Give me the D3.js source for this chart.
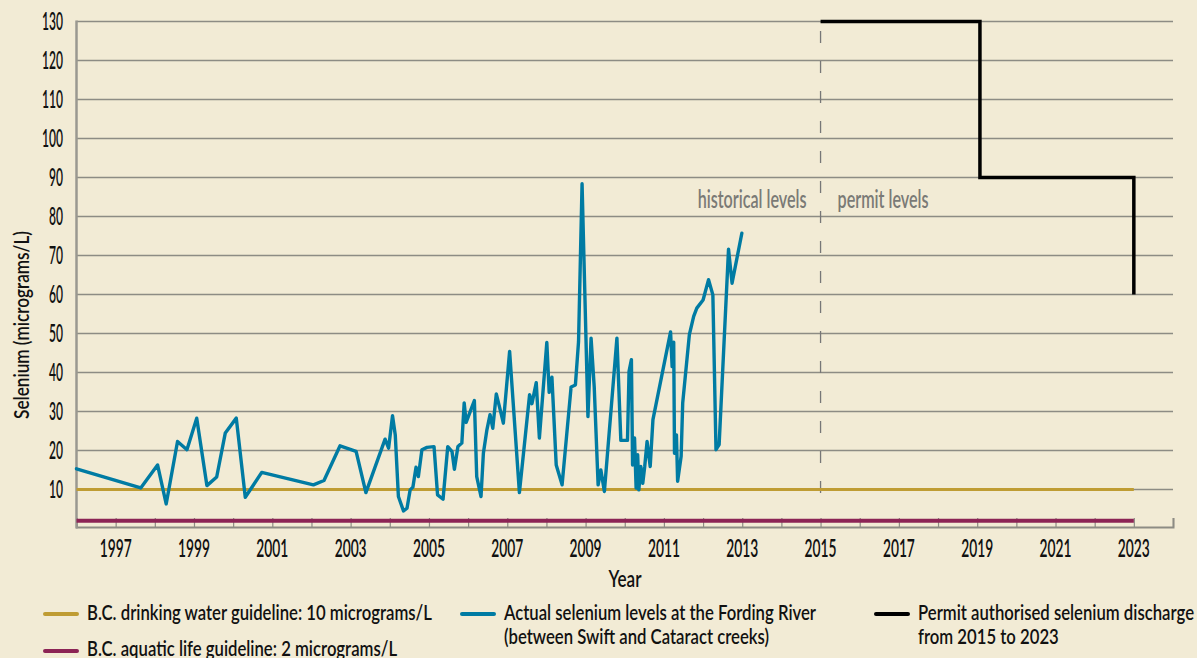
<!DOCTYPE html>
<html>
<head>
<meta charset="utf-8">
<script src="https://cdn.jsdelivr.net/npm/d3@7"></script>
<style>
  html, body { margin: 0; padding: 0; background: #f2ebd5; }
  svg { display: block; }
  text { font-family: Lato, "DejaVu Sans", sans-serif; font-weight: 600; fill: #111; }
</style>
</head>
<body>
<svg id="chart" width="1197" height="658"></svg>
<script>
// Selenium sampling dates (decimal years) at the Fording River
const sampleYears = [
  1996.0, 1997.64, 1998.07, 1998.29, 1998.58, 1998.82, 1999.07, 1999.33, 1999.58, 1999.80,
  2000.08, 2000.31, 2000.73, 2002.05, 2002.32, 2002.73, 2003.14, 2003.39, 2003.88, 2003.97,
  2004.07, 2004.14, 2004.22, 2004.35, 2004.44, 2004.52, 2004.59, 2004.67, 2004.73, 2004.82,
  2004.95, 2005.13, 2005.22, 2005.36, 2005.48, 2005.59, 2005.65, 2005.74, 2005.84, 2005.90,
  2005.95, 2006.07, 2006.16, 2006.22, 2006.33, 2006.39, 2006.48, 2006.56, 2006.63, 2006.72,
  2006.82, 2006.90, 2007.06, 2007.31, 2007.57, 2007.63, 2007.74, 2007.82, 2008.01, 2008.07,
  2008.14, 2008.25, 2008.40, 2008.63, 2008.74, 2008.82, 2008.91, 2009.06, 2009.14, 2009.22,
  2009.32, 2009.39, 2009.48, 2009.80, 2009.90, 2010.07, 2010.11, 2010.17, 2010.20, 2010.25,
  2010.29, 2010.33, 2010.36, 2010.41, 2010.46, 2010.51, 2010.57, 2010.65, 2010.72, 2011.17,
  2011.21, 2011.25, 2011.27, 2011.32, 2011.35, 2011.44, 2011.48, 2011.65, 2011.76, 2011.84,
  2012.00, 2012.14, 2012.25, 2012.33, 2012.41, 2012.65, 2012.74, 2012.99
];
// Measured selenium (micrograms/L)
const seleniumLevels = [
  15.3, 10.4, 16.3, 6.3, 22.3, 20.2, 28.3, 11.0, 13.2, 24.5,
  28.3, 8.0, 14.4, 11.2, 12.3, 21.2, 19.8, 9.2, 22.9, 20.6,
  28.9, 24.0, 8.2, 4.5, 5.2, 9.9, 10.6, 15.7, 13.3, 20.2,
  20.8, 21.0, 8.6, 7.5, 21.0, 19.7, 15.2, 21.0, 21.9, 32.2,
  27.2, 30.4, 32.8, 13.3, 8.2, 19.3, 25.3, 29.2, 25.7, 34.5,
  30.4, 27.0, 45.4, 9.2, 34.3, 32.0, 37.4, 23.2, 47.7, 34.9,
  38.8, 16.3, 11.2, 36.3, 36.8, 47.9, 88.4, 28.7, 48.8, 36.4,
  11.2, 15.0, 9.5, 48.8, 22.6, 22.6, 40.3, 43.3, 16.3, 23.2,
  10.4, 18.9, 9.9, 15.9, 11.6, 15.9, 22.3, 15.9, 27.9, 50.4,
  41.5, 47.8, 19.3, 24.0, 12.1, 18.5, 32.2, 49.7, 54.4, 56.5,
  58.6, 63.8, 59.9, 20.2, 21.5, 71.6, 62.9, 75.7
];

// Permit authorised discharge, 2015 to 2023
const permitYears = [2015, 2019.07, 2019.07, 2023, 2023];
const permitLevels = [130, 130, 90, 90, 60];

// Guidelines (micrograms/L) and the span they are drawn over
const drinkingGuideline = 10;
const aquaticGuideline = 2;
const guidelineSpan = [1996, 2023];

// Axis ticks
const yTicks = [10, 20, 30, 40, 50, 60, 70, 80, 90, 100, 110, 120, 130];
const yearTicks = d3.range(1997, 2025);
const yearLabels = d3.range(1997, 2024, 2);
const permitStartYear = 2015;

const legendItems = [
  { label: ["B.C. drinking water guideline: 10 micrograms/L"], color: "#bf9c33" },
  { label: ["B.C. aquatic life guideline: 2 micrograms/L"], color: "#8c2455" },
  { label: ["Actual selenium levels at the Fording River", "(between Swift and Cataract creeks)"], color: "#007ba3" },
  { label: ["Permit authorised selenium discharge", "from 2015 to 2023"], color: "#000000" }
];

const svg = d3.select("#chart");
const x = d3.scaleLinear().domain([1996, 2024]).range([76.5, 1173]);
const y = d3.scaleLinear().domain([0, 130]).range([528.5, 21.5]);

// Width of a string at a given size, used to squeeze labels into a condensed face
function measure(str, size) {
  const t = svg.append("text").attr("font-size", size).text(str);
  const w = t.node().getComputedTextLength();
  t.remove();
  return w;
}
const place = (px, py, k, extra = "") => `translate(${px},${py})${extra} scale(${k},1)`;

const tickSize = 24;
const kY = 21 / measure("130", tickSize);
const kX = 32 / measure("2023", tickSize);

// Horizontal gridlines
svg.append("g")
  .selectAll("line")
  .data(yTicks)
  .join("line")
  .attr("x1", x(1996)).attr("x2", x(2024))
  .attr("y1", d => y(d)).attr("y2", d => y(d))
  .attr("stroke", "#8d8c84").attr("stroke-width", 1.5);

// Y axis labels
svg.append("g")
  .selectAll("text")
  .data(yTicks)
  .join("text")
  .attr("transform", d => place(63, y(d) + 8.5, kY))
  .attr("text-anchor", "end")
  .attr("font-size", tickSize)
  .text(d => d);

// Bottom axis with upward year ticks
const xAxis = d3.axisBottom(x)
  .tickValues(yearTicks)
  .tickSize(-9)
  .tickFormat("");
const gx = svg.append("g").attr("transform", `translate(0,${y(0) - 1.5})`).call(xAxis);
gx.select(".domain").attr("stroke", "#8d8c84").attr("stroke-width", 2);
gx.selectAll(".tick line").attr("stroke", "#8d8c84").attr("stroke-width", 1.2);

svg.append("g")
  .selectAll("text")
  .data(yearLabels)
  .join("text")
  .attr("transform", d => place(x(d), 557, kX))
  .attr("text-anchor", "middle")
  .attr("font-size", tickSize)
  .text(d => d);

// Left axis line
svg.append("line")
  .attr("x1", x(1996)).attr("x2", x(1996))
  .attr("y1", y(130) - 1).attr("y2", y(0))
  .attr("stroke", "#9a9890").attr("stroke-width", 2.5);

// Divider between historical and permit periods
svg.append("line")
  .attr("x1", x(permitStartYear)).attr("x2", x(permitStartYear))
  .attr("y1", 31).attr("y2", 506)
  .attr("stroke", "#777").attr("stroke-width", 1.3)
  .attr("stroke-dasharray", "12,18");

const noteSize = 24;
const kNote = 109 / measure("historical levels", noteSize);
svg.append("text")
  .attr("transform", place(x(permitStartYear) - 14, 208, kNote))
  .attr("text-anchor", "end").attr("font-size", noteSize)
  .style("fill", "#7a7a76")
  .text("historical levels");
svg.append("text")
  .attr("transform", place(x(permitStartYear) + 17, 208, kNote))
  .attr("font-size", noteSize)
  .style("fill", "#7a7a76")
  .text("permit levels");

// Guideline lines
const line = d3.line().x(d => x(d[0])).y(d => y(d[1]));
svg.append("path")
  .attr("d", line(guidelineSpan.map(yr => [yr, aquaticGuideline])))
  .attr("stroke", legendItems[1].color).attr("stroke-width", 4).attr("fill", "none");
svg.append("path")
  .attr("d", line(guidelineSpan.map(yr => [yr, drinkingGuideline])))
  .attr("stroke", legendItems[0].color).attr("stroke-width", 3).attr("fill", "none");

// Measured selenium
svg.append("path")
  .attr("d", line(sampleYears.map((yr, i) => [yr, seleniumLevels[i]])))
  .attr("stroke", legendItems[2].color).attr("stroke-width", 3.4)
  .attr("stroke-linejoin", "round").attr("stroke-linecap", "round")
  .attr("fill", "none");

// Permit levels
svg.append("path")
  .attr("d", line(permitYears.map((yr, i) => [yr, permitLevels[i]])))
  .attr("stroke", "#000").attr("stroke-width", 3.5)
  .attr("fill", "none");

// Axis titles
const titleSize = 23;
svg.append("text")
  .attr("transform", place(625, 587, 33 / measure("Year", titleSize)))
  .attr("text-anchor", "middle").attr("font-size", titleSize)
  .text("Year");
const ySize = 21;
svg.append("text")
  .attr("transform", place(29, 325, 188 / measure("Selenium (micrograms/L)", ySize), " rotate(-90)"))
  .attr("text-anchor", "middle").attr("font-size", ySize)
  .text("Selenium (micrograms/L)");

// Legend
const legendSize = 21;
const kLegend = 345 / measure(legendItems[0].label[0], legendSize);
const legendPos = [
  { x: 45, y: 614, ty: 620 },
  { x: 45, y: 651, ty: 656 },
  { x: 462, y: 614, ty: 620 },
  { x: 876, y: 614, ty: 620 }
];
const lg = svg.append("g");
legendItems.forEach((item, i) => {
  const p = legendPos[i];
  lg.append("line")
    .attr("x1", p.x).attr("x2", p.x + 32)
    .attr("y1", p.y).attr("y2", p.y)
    .attr("stroke", item.color).attr("stroke-width", 4)
    .attr("stroke-linecap", "round");
  item.label.forEach((s, j) => {
    lg.append("text")
      .attr("transform", place(p.x + 42, p.ty + j * 24, kLegend))
      .attr("font-size", legendSize)
      .text(s);
  });
});
</script>
</body>
</html>
